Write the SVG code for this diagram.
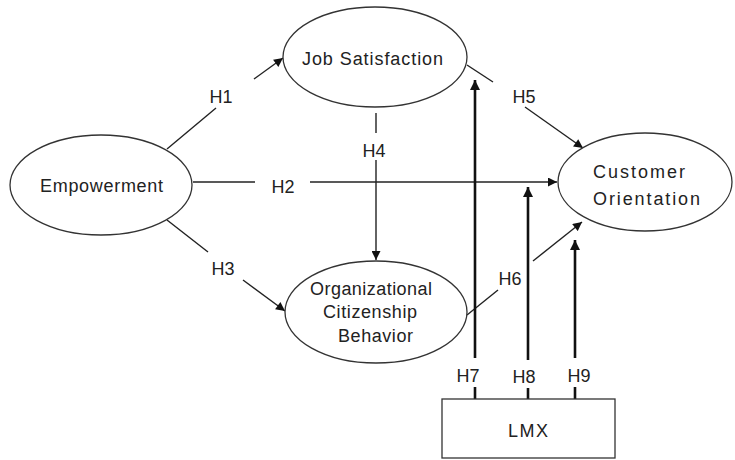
<svg xmlns="http://www.w3.org/2000/svg" width="735" height="460" viewBox="0 0 735 460">
<defs>
<style>
.node{fill:#fff;stroke:#333;stroke-width:1.3}
.t{font-family:"Liberation Sans",Arial,sans-serif;font-size:18px;fill:#222;text-anchor:middle}
.c{fill:none;stroke:#222;stroke-width:1.4}
.k{fill:none;stroke:#111;stroke-width:2.6}
</style>
<marker id="ah" viewBox="0 0 10 10" refX="10" refY="5" markerWidth="10" markerHeight="9" markerUnits="userSpaceOnUse" orient="auto">
<path d="M0,0 L10,5 L0,10 z" fill="#111"/>
</marker>
<marker id="ahk" viewBox="0 0 10 10" refX="10" refY="5" markerWidth="11" markerHeight="10" markerUnits="userSpaceOnUse" orient="auto">
<path d="M0,0 L10,5 L0,10 z" fill="#111"/>
</marker>
</defs>
<rect width="735" height="460" fill="#fff"/>
<g id="connectors">
<line class="c" x1="167" y1="149" x2="216" y2="108"/>
<line class="c" x1="254" y1="79" x2="283" y2="58" marker-end="url(#ah)"/>
<line class="c" x1="193" y1="182" x2="255" y2="182"/>
<line class="c" x1="310" y1="182" x2="557" y2="182" marker-end="url(#ah)"/>
<line class="c" x1="167" y1="220" x2="208" y2="252"/>
<line class="c" x1="243" y1="280" x2="285" y2="311" marker-end="url(#ah)"/>
<line class="c" x1="376" y1="113" x2="376" y2="133"/>
<line class="c" x1="376" y1="160" x2="376" y2="260" marker-end="url(#ah)"/>
<line class="c" x1="467" y1="65" x2="493" y2="82"/>
<line class="c" x1="525" y1="107" x2="583" y2="148" marker-end="url(#ah)"/>
<line class="c" x1="467" y1="315" x2="498" y2="290"/>
<line class="c" x1="533" y1="261" x2="582" y2="222" marker-end="url(#ah)"/>
<line class="k" x1="475" y1="358" x2="475" y2="80" marker-end="url(#ahk)"/>
<line class="k" x1="475" y1="387" x2="475" y2="399"/>
<line class="k" x1="528" y1="360" x2="528" y2="187" marker-end="url(#ahk)"/>
<line class="k" x1="528" y1="388" x2="528" y2="399"/>
<line class="k" x1="575" y1="358" x2="575" y2="240" marker-end="url(#ahk)"/>
<line class="k" x1="575" y1="387" x2="575" y2="399"/>
<text class="t" x="221" y="103">H1</text>
<text class="t" x="283" y="193">H2</text>
<text class="t" x="223" y="275">H3</text>
<text class="t" x="374" y="157">H4</text>
<text class="t" x="524" y="103">H5</text>
<text class="t" x="510" y="285">H6</text>
<text class="t" x="468" y="382">H7</text>
<text class="t" x="524" y="383">H8</text>
<text class="t" x="579" y="382">H9</text>
</g>
<g id="empowerment">
<ellipse class="node" cx="101" cy="185" rx="91" ry="50"/>
<text class="t" x="101.5" y="192" textLength="123" lengthAdjust="spacing">Empowerment</text>
</g>
<g id="job-satisfaction">
<ellipse class="node" cx="375" cy="57" rx="92" ry="50"/>
<text class="t" x="372.5" y="65" textLength="141" lengthAdjust="spacing">Job Satisfaction</text>
</g>
<g id="customer-orientation">
<ellipse class="node" cx="645" cy="182" rx="87" ry="49"/>
<text class="t" x="639" y="178" textLength="92" lengthAdjust="spacing">Customer</text>
<text class="t" x="646.5" y="205" textLength="107" lengthAdjust="spacing">Orientation</text>
</g>
<g id="ocb">
<ellipse class="node" cx="376" cy="312" rx="91" ry="51"/>
<text class="t" x="371" y="295" textLength="122" lengthAdjust="spacing">Organizational</text>
<text class="t" x="370" y="318" textLength="94" lengthAdjust="spacing">Citizenship</text>
<text class="t" x="375.5" y="342" textLength="75" lengthAdjust="spacing">Behavior</text>
</g>
<g id="lmx">
<rect class="node" x="442" y="399" width="173" height="59"/>
<text class="t" x="528" y="437" textLength="40" lengthAdjust="spacing">LMX</text>
</g>
</svg>
